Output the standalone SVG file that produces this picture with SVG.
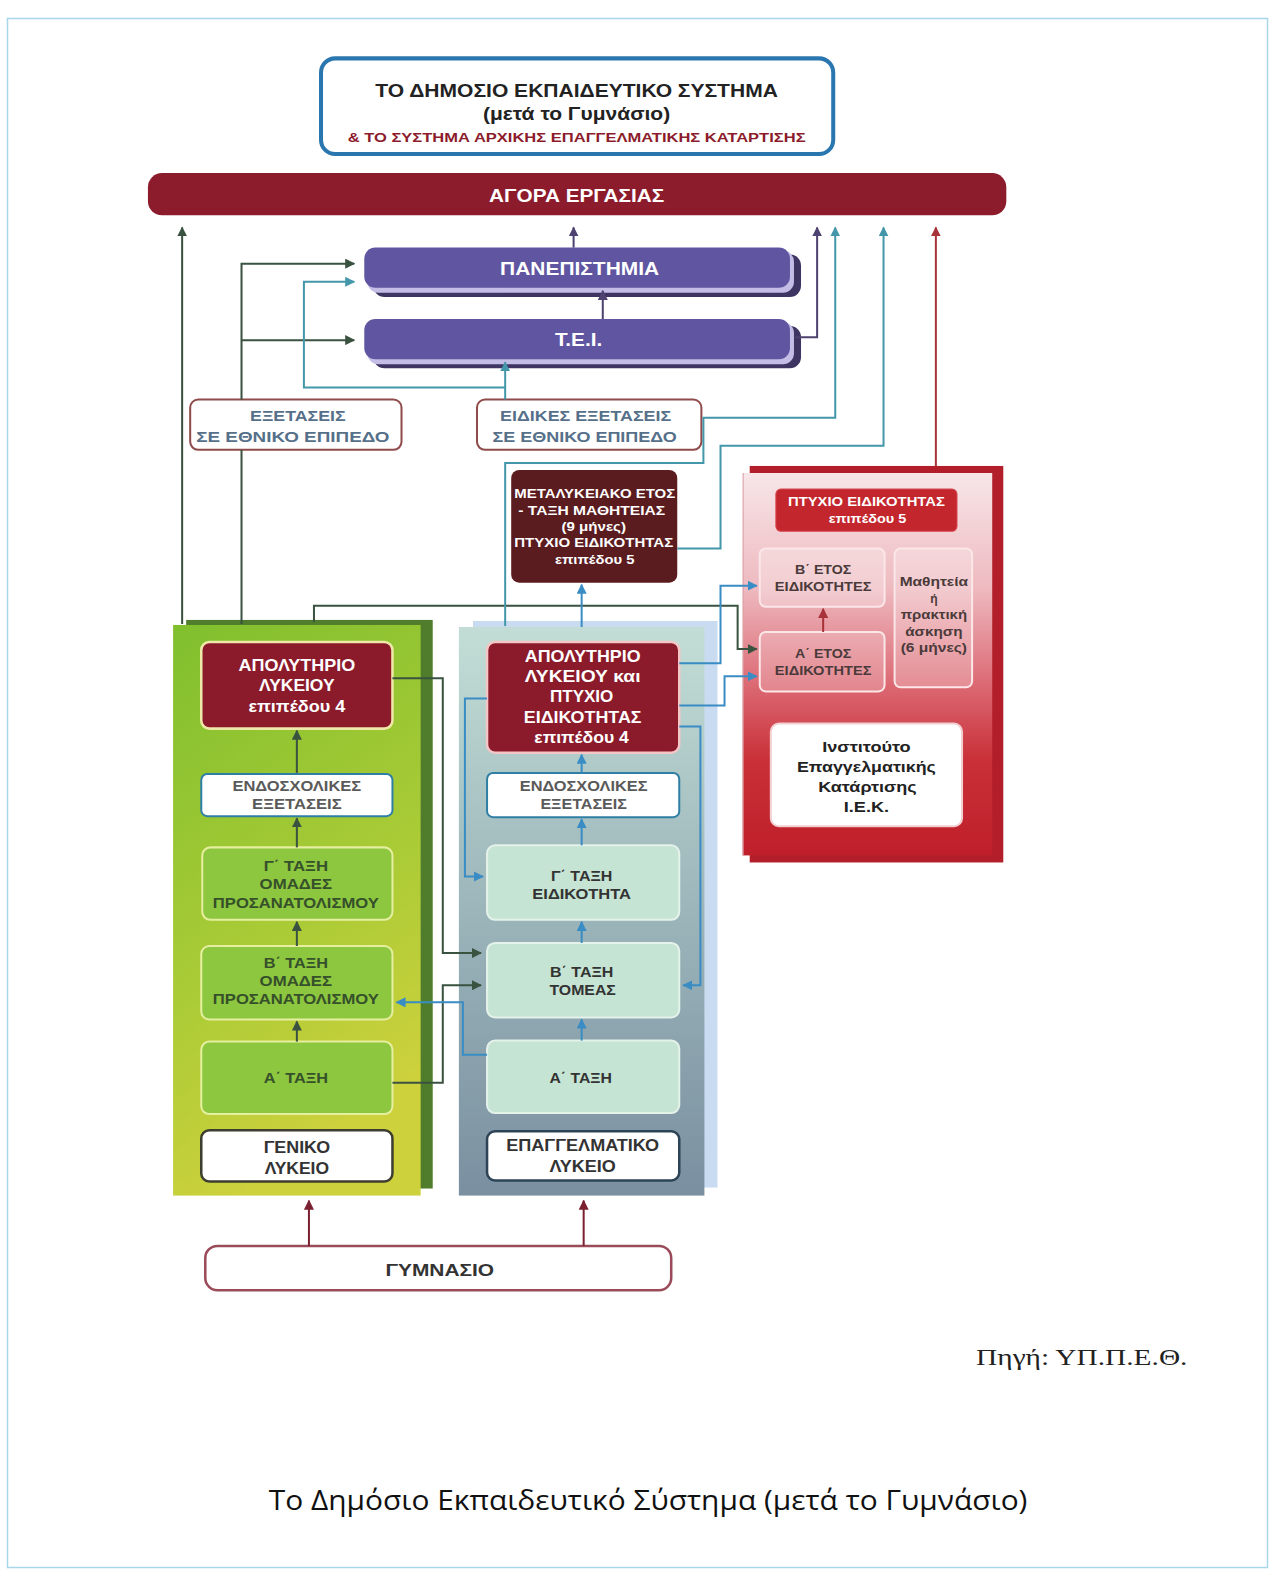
<svg xmlns="http://www.w3.org/2000/svg" width="1275" height="1578" viewBox="0 0 1275 1578">
<defs>
<style>
text{font-family:"Liberation Sans",Arial,sans-serif;font-weight:bold;text-anchor:middle}
.w{fill:#ffffff}
.g{fill:#5a5a5a}
.dg{fill:#35502a}
.dk{fill:#333333}
.ex{fill:#56708a;font-size:15px}
.conn path{fill:none;stroke-width:2}
.cg{stroke:#3a5240}
.ct{stroke:#4497aa}
.cb{stroke:#3a8cc4}
.cp{stroke:#4d4270}
.cr{stroke:#a8323a}
.cm{stroke:#7a2030}
</style>
<linearGradient id="gGreen" x1="0" y1="0" x2="0.3" y2="1">
<stop offset="0" stop-color="#80bf2e"/>
<stop offset="0.6" stop-color="#a9cb36"/>
<stop offset="1" stop-color="#cdd13c"/>
</linearGradient>
<linearGradient id="gSlate" x1="0" y1="0" x2="0" y2="1">
<stop offset="0" stop-color="#c3ddd6"/>
<stop offset="0.45" stop-color="#9fb9bd"/>
<stop offset="1" stop-color="#7a8fa0"/>
</linearGradient>
<linearGradient id="gRed" x1="0" y1="0" x2="0" y2="1">
<stop offset="0" stop-color="#f7e6e8"/>
<stop offset="0.3" stop-color="#eebac0"/>
<stop offset="0.55" stop-color="#dc6a74"/>
<stop offset="0.75" stop-color="#c93038"/>
<stop offset="1" stop-color="#bf1f2a"/>
</linearGradient>
<marker id="aG" viewBox="0 0 10 10" refX="9" refY="5" markerWidth="10" markerHeight="10" markerUnits="userSpaceOnUse" orient="auto"><path d="M0,0 L10,5 L0,10 z" fill="#3a5240"/></marker>
<marker id="aT" viewBox="0 0 10 10" refX="9" refY="5" markerWidth="10" markerHeight="10" markerUnits="userSpaceOnUse" orient="auto"><path d="M0,0 L10,5 L0,10 z" fill="#4497aa"/></marker>
<marker id="aB" viewBox="0 0 10 10" refX="9" refY="5" markerWidth="10" markerHeight="10" markerUnits="userSpaceOnUse" orient="auto"><path d="M0,0 L10,5 L0,10 z" fill="#3a8cc4"/></marker>
<marker id="aP" viewBox="0 0 10 10" refX="9" refY="5" markerWidth="10" markerHeight="10" markerUnits="userSpaceOnUse" orient="auto"><path d="M0,0 L10,5 L0,10 z" fill="#4d4270"/></marker>
<marker id="aR" viewBox="0 0 10 10" refX="9" refY="5" markerWidth="10" markerHeight="10" markerUnits="userSpaceOnUse" orient="auto"><path d="M0,0 L10,5 L0,10 z" fill="#a8323a"/></marker>
<marker id="aM" viewBox="0 0 10 10" refX="9" refY="5" markerWidth="10" markerHeight="10" markerUnits="userSpaceOnUse" orient="auto"><path d="M0,0 L10,5 L0,10 z" fill="#7a2030"/></marker>
</defs>
<rect x="0" y="0" width="1275" height="1578" fill="#ffffff"/>
<rect x="7.5" y="18.5" width="1260" height="1549" fill="none" stroke="#a9d7ea" stroke-width="1.5"/>
<g transform="scale(1.00631,1.00638)">

<g id="title">
<rect x="319" y="58" width="509" height="95" rx="14" fill="#ffffff" stroke="#2a77b0" stroke-width="4"/>
<text x="573" y="96" font-size="18" fill="#222" textLength="400" lengthAdjust="spacingAndGlyphs">ΤΟ ΔΗΜΟΣΙΟ ΕΚΠΑΙΔΕΥΤΙΚΟ ΣΥΣΤΗΜΑ</text>
<text x="573" y="119" font-size="18" fill="#222" textLength="186" lengthAdjust="spacingAndGlyphs">(μετά το Γυμνάσιο)</text>
<text x="573" y="141" font-size="13" fill="#8c1c2c" textLength="455" lengthAdjust="spacingAndGlyphs">&amp; ΤΟ ΣΥΣΤΗΜΑ ΑΡΧΙΚΗΣ ΕΠΑΓΓΕΛΜΑΤΙΚΗΣ ΚΑΤΑΡΤΙΣΗΣ</text>
</g>

<g id="agora">
<rect x="147" y="172" width="853" height="42" rx="14" fill="#8c1b2b"/>
<text x="573" y="201" font-size="19" class="w" textLength="174" lengthAdjust="spacingAndGlyphs">ΑΓΟΡΑ ΕΡΓΑΣΙΑΣ</text>
</g>

<g id="panepistimia">
<rect x="371" y="253" width="425" height="42" rx="11" fill="#3f3563"/>
<rect x="365" y="249" width="424" height="42" rx="11" fill="#c4bde6"/>
<rect x="362" y="246" width="423" height="40" rx="11" fill="#5f55a1"/>
<text x="576" y="273" font-size="19" class="w" textLength="158" lengthAdjust="spacingAndGlyphs">ΠΑΝΕΠΙΣΤΗΜΙΑ</text>
</g>

<g id="tei">
<rect x="371" y="324" width="425" height="42" rx="11" fill="#3f3563"/>
<rect x="365" y="320" width="424" height="42" rx="11" fill="#c4bde6"/>
<rect x="362" y="317" width="423" height="40" rx="11" fill="#5f55a1"/>
<text x="575" y="344" font-size="19" class="w" textLength="47" lengthAdjust="spacingAndGlyphs">T.E.I.</text>
</g>

<g id="exetaseis">
<rect x="189" y="397" width="210" height="50" rx="8" fill="#ffffff" stroke="#8f4a4a" stroke-width="2"/>
<text x="296" y="418" class="ex" textLength="95" lengthAdjust="spacingAndGlyphs">ΕΞΕΤΑΣΕΙΣ</text>
<text x="291" y="439" class="ex" textLength="192" lengthAdjust="spacingAndGlyphs">ΣΕ ΕΘΝΙΚΟ ΕΠΙΠΕΔΟ</text>
</g>

<g id="eidikes">
<rect x="474" y="397" width="223" height="50" rx="8" fill="#ffffff" stroke="#8f4a4a" stroke-width="2"/>
<text x="582" y="418" class="ex" textLength="170" lengthAdjust="spacingAndGlyphs">ΕΙΔΙΚΕΣ ΕΞΕΤΑΣΕΙΣ</text>
<text x="581" y="439" class="ex" textLength="183" lengthAdjust="spacingAndGlyphs">ΣΕ ΕΘΝΙΚΟ ΕΠΙΠΕΔΟ</text>
</g>

<g id="metalykeiako">
<rect x="508" y="467" width="165" height="112" rx="8" fill="#5b1c1f"/>
<text x="591" y="495" font-size="12" class="w" textLength="160" lengthAdjust="spacingAndGlyphs">ΜΕΤΑΛΥΚΕΙΑΚΟ ΕΤΟΣ</text>
<text x="588" y="512" font-size="12" class="w" textLength="146" lengthAdjust="spacingAndGlyphs">- ΤΑΞΗ ΜΑΘΗΤΕΙΑΣ</text>
<text x="590" y="528" font-size="12" class="w" textLength="64" lengthAdjust="spacingAndGlyphs">(9 μήνες)</text>
<text x="590" y="544" font-size="12" class="w" textLength="158" lengthAdjust="spacingAndGlyphs">ΠΤΥΧΙΟ ΕΙΔΙΚΟΤΗΤΑΣ</text>
<text x="591" y="560" font-size="12" class="w" textLength="79" lengthAdjust="spacingAndGlyphs">επιπέδου 5</text>
</g>

<g id="iek">
<rect x="745" y="463" width="252" height="394" fill="#b21f2a"/>
<rect x="738" y="470" width="248" height="380" fill="url(#gRed)"/>
<line x1="738.5" y1="470" x2="738.5" y2="850" stroke="#d9a0a6" stroke-width="1"/>
</g>
<g id="iek-ptyxio">
<rect x="771" y="486" width="180" height="42" rx="5" fill="#c4262e" stroke="#d84850" stroke-width="1"/>
<text x="861" y="503" font-size="12" class="w" textLength="156" lengthAdjust="spacingAndGlyphs">ΠΤΥΧΙΟ ΕΙΔΙΚΟΤΗΤΑΣ</text>
<text x="862" y="520" font-size="12" class="w" textLength="77" lengthAdjust="spacingAndGlyphs">επιπέδου 5</text>
</g>
<g id="iek-b">
<rect x="755" y="545" width="124" height="58" rx="6" fill="#ffffff" fill-opacity="0.28" stroke="#fbe6e8" stroke-width="2"/>
<text x="818" y="570" font-size="12" fill="#4a3a3a" textLength="56" lengthAdjust="spacingAndGlyphs">Β΄ ΕΤΟΣ</text>
<text x="818" y="587" font-size="12" fill="#4a3a3a" textLength="96" lengthAdjust="spacingAndGlyphs">ΕΙΔΙΚΟΤΗΤΕΣ</text>
</g>
<g id="iek-a">
<rect x="755" y="628" width="124" height="59" rx="6" fill="#ffffff" fill-opacity="0.22" stroke="#fbe6e8" stroke-width="2"/>
<text x="818" y="654" font-size="12" fill="#4a3a3a" textLength="56" lengthAdjust="spacingAndGlyphs">Α΄ ΕΤΟΣ</text>
<text x="818" y="671" font-size="12" fill="#4a3a3a" textLength="96" lengthAdjust="spacingAndGlyphs">ΕΙΔΙΚΟΤΗΤΕΣ</text>
</g>
<g id="iek-mathiteia">
<rect x="889" y="545" width="77" height="138" rx="6" fill="#ffffff" fill-opacity="0.25" stroke="#fbe6e8" stroke-width="2"/>
<text x="928" y="582" font-size="12" fill="#4a3a3a" textLength="68" lengthAdjust="spacingAndGlyphs">Μαθητεία</text>
<text x="928" y="599" font-size="12" fill="#4a3a3a">ή</text>
<text x="928" y="615" font-size="12" fill="#4a3a3a" textLength="66" lengthAdjust="spacingAndGlyphs">πρακτική</text>
<text x="928" y="632" font-size="12" fill="#4a3a3a" textLength="57" lengthAdjust="spacingAndGlyphs">άσκηση</text>
<text x="928" y="648" font-size="12" fill="#4a3a3a" textLength="66" lengthAdjust="spacingAndGlyphs">(6 μήνες)</text>
</g>
<g id="iek-institouto">
<rect x="766" y="719" width="190" height="102" rx="8" fill="#ffffff" stroke="#f2d0d2" stroke-width="2"/>
<text x="861" y="747" font-size="15" fill="#222" textLength="88" lengthAdjust="spacingAndGlyphs">Ινστιτούτο</text>
<text x="861" y="767" font-size="15" fill="#222" textLength="138" lengthAdjust="spacingAndGlyphs">Επαγγελματικής</text>
<text x="862" y="787" font-size="15" fill="#222" textLength="98" lengthAdjust="spacingAndGlyphs">Κατάρτισης</text>
<text x="861" y="807" font-size="15" fill="#222" textLength="45" lengthAdjust="spacingAndGlyphs">Ι.Ε.Κ.</text>
</g>

<g id="geniko-panel">
<rect x="185" y="616" width="245" height="565" fill="#4f7d2b"/>
<rect x="172" y="621" width="246" height="567" fill="url(#gGreen)"/>
</g>
<g id="geniko-apolytirio">
<rect x="200" y="638" width="190" height="86" rx="8" fill="#8b1a2b" stroke="#efe8a8" stroke-width="2.5"/>
<text x="295" y="667" font-size="16" class="w" textLength="116" lengthAdjust="spacingAndGlyphs">ΑΠΟΛΥΤΗΡΙΟ</text>
<text x="295" y="687" font-size="16" class="w" textLength="75" lengthAdjust="spacingAndGlyphs">ΛΥΚΕΙΟΥ</text>
<text x="295" y="707" font-size="16" class="w" textLength="96" lengthAdjust="spacingAndGlyphs">επιπέδου 4</text>
</g>
<g id="geniko-endosx">
<rect x="200" y="769" width="190" height="42" rx="6" fill="#ffffff" stroke="#2f7fa5" stroke-width="2"/>
<text x="295" y="786" font-size="14" class="g" textLength="128" lengthAdjust="spacingAndGlyphs">ΕΝΔΟΣΧΟΛΙΚΕΣ</text>
<text x="295" y="804" font-size="14" class="g" textLength="89" lengthAdjust="spacingAndGlyphs">ΕΞΕΤΑΣΕΙΣ</text>
</g>
<g id="geniko-g">
<rect x="201" y="842" width="189" height="72" rx="8" fill="#8dc63f" stroke="#e6eea0" stroke-width="2"/>
<text x="294" y="865" font-size="14" class="dg" textLength="64" lengthAdjust="spacingAndGlyphs">Γ΄ ΤΑΞΗ</text>
<text x="294" y="883" font-size="14" class="dg" textLength="72" lengthAdjust="spacingAndGlyphs">ΟΜΑΔΕΣ</text>
<text x="294" y="902" font-size="14" class="dg" textLength="165" lengthAdjust="spacingAndGlyphs">ΠΡΟΣΑΝΑΤΟΛΙΣΜΟΥ</text>
</g>
<g id="geniko-b">
<rect x="200" y="940" width="190" height="73" rx="8" fill="#8dc63f" stroke="#e6eea0" stroke-width="2"/>
<text x="294" y="962" font-size="14" class="dg" textLength="64" lengthAdjust="spacingAndGlyphs">Β΄ ΤΑΞΗ</text>
<text x="294" y="980" font-size="14" class="dg" textLength="72" lengthAdjust="spacingAndGlyphs">ΟΜΑΔΕΣ</text>
<text x="294" y="998" font-size="14" class="dg" textLength="165" lengthAdjust="spacingAndGlyphs">ΠΡΟΣΑΝΑΤΟΛΙΣΜΟΥ</text>
</g>
<g id="geniko-a">
<rect x="200" y="1035" width="190" height="72" rx="8" fill="#8dc63f" stroke="#e6eea0" stroke-width="2"/>
<text x="294" y="1076" font-size="14" class="dg" textLength="64" lengthAdjust="spacingAndGlyphs">Α΄ ΤΑΞΗ</text>
</g>
<g id="geniko-lykeio">
<rect x="200" y="1123" width="190" height="51" rx="8" fill="#ffffff" stroke="#3d3d30" stroke-width="2.5"/>
<text x="295" y="1146" font-size="16" class="dk" textLength="66" lengthAdjust="spacingAndGlyphs">ΓΕΝΙΚΟ</text>
<text x="295" y="1167" font-size="16" class="dk" textLength="64" lengthAdjust="spacingAndGlyphs">ΛΥΚΕΙΟ</text>
</g>

<g id="epal-panel">
<rect x="470" y="617" width="243" height="563" fill="#c9dbf0"/>
<rect x="456" y="623" width="244" height="565" fill="url(#gSlate)"/>
</g>
<g id="epal-apolytirio">
<rect x="484" y="638" width="191" height="110" rx="8" fill="#8b1a2b" stroke="#f4c6c6" stroke-width="2.5"/>
<text x="579" y="658" font-size="16" class="w" textLength="115" lengthAdjust="spacingAndGlyphs">ΑΠΟΛΥΤΗΡΙΟ</text>
<text x="579" y="678" font-size="16" class="w" textLength="115" lengthAdjust="spacingAndGlyphs">ΛΥΚΕΙΟΥ  και</text>
<text x="578" y="698" font-size="16" class="w" textLength="63" lengthAdjust="spacingAndGlyphs">ΠΤΥΧΙΟ</text>
<text x="579" y="718" font-size="16" class="w" textLength="117" lengthAdjust="spacingAndGlyphs">ΕΙΔΙΚΟΤΗΤΑΣ</text>
<text x="578" y="738" font-size="16" class="w" textLength="94" lengthAdjust="spacingAndGlyphs">επιπέδου 4</text>
</g>
<g id="epal-endosx">
<rect x="484" y="768" width="191" height="44" rx="6" fill="#ffffff" stroke="#2f7fa5" stroke-width="2"/>
<text x="580" y="786" font-size="14" class="g" textLength="127" lengthAdjust="spacingAndGlyphs">ΕΝΔΟΣΧΟΛΙΚΕΣ</text>
<text x="580" y="804" font-size="14" class="g" textLength="86" lengthAdjust="spacingAndGlyphs">ΕΞΕΤΑΣΕΙΣ</text>
</g>
<g id="epal-g">
<rect x="484" y="840" width="191" height="74" rx="8" fill="#c6e4d4" stroke="#e4f2ea" stroke-width="2"/>
<text x="578" y="875" font-size="14" class="dk" textLength="61" lengthAdjust="spacingAndGlyphs">Γ΄ ΤΑΞΗ</text>
<text x="578" y="893" font-size="14" class="dk" textLength="98" lengthAdjust="spacingAndGlyphs">ΕΙΔΙΚΟΤΗΤΑ</text>
</g>
<g id="epal-b">
<rect x="484" y="937" width="191" height="74" rx="8" fill="#c6e4d4" stroke="#e4f2ea" stroke-width="2"/>
<text x="578" y="971" font-size="14" class="dk" textLength="63" lengthAdjust="spacingAndGlyphs">Β΄ ΤΑΞΗ</text>
<text x="579" y="989" font-size="14" class="dk" textLength="66" lengthAdjust="spacingAndGlyphs">ΤΟΜΕΑΣ</text>
</g>
<g id="epal-a">
<rect x="484" y="1034" width="191" height="72" rx="8" fill="#c6e4d4" stroke="#e4f2ea" stroke-width="2"/>
<text x="577" y="1076" font-size="14" class="dk" textLength="62" lengthAdjust="spacingAndGlyphs">Α΄ ΤΑΞΗ</text>
</g>
<g id="epal-lykeio">
<rect x="484" y="1124" width="191" height="49" rx="8" fill="#ffffff" stroke="#2c4456" stroke-width="2.5"/>
<text x="579" y="1144" font-size="16" class="dk" textLength="152" lengthAdjust="spacingAndGlyphs">ΕΠΑΓΓΕΛΜΑΤΙΚΟ</text>
<text x="579" y="1165" font-size="16" class="dk" textLength="66" lengthAdjust="spacingAndGlyphs">ΛΥΚΕΙΟ</text>
</g>

<g id="gymnasio">
<rect x="204" y="1238" width="463" height="44" rx="12" fill="#ffffff" stroke="#9a4a58" stroke-width="2.5"/>
<text x="437" y="1268" font-size="17" class="dk" textLength="108" lengthAdjust="spacingAndGlyphs">ΓΥΜΝΑΣΙΟ</text>
</g>

<g class="conn" id="connectors">
<path class="cg" d="M181,620 V226" marker-end="url(#aG)"/>
<path class="cg" d="M240,620 V447"/>
<path class="cg" d="M240,397 V262 H352" marker-end="url(#aG)"/>
<path class="cg" d="M240,338 H352" marker-end="url(#aG)"/>
<path class="cg" d="M312,618 V602 H733 V645 H752" marker-end="url(#aG)"/>
<path class="cg" d="M390,674 H440 V947 H478" marker-end="url(#aG)"/>
<path class="cg" d="M390,1076 H440 V979 H478" marker-end="url(#aG)"/>
<path class="cg" d="M295,768 V726" marker-end="url(#aG)"/>
<path class="cg" d="M295,842 V813" marker-end="url(#aG)"/>
<path class="cg" d="M295,940 V916" marker-end="url(#aG)"/>
<path class="cg" d="M295,1035 V1015" marker-end="url(#aG)"/>
<path class="ct" d="M502,397 V360" marker-end="url(#aT)"/>
<path class="ct" d="M502,385 H302 V280 H352" marker-end="url(#aT)"/>
<path class="ct" d="M502,622 V460 H699 V415 H830 V226" marker-end="url(#aT)"/>
<path class="ct" d="M673,545 H716 V443 H878 V226" marker-end="url(#aT)"/>
<path class="cp" d="M570,246 V226" marker-end="url(#aP)"/>
<path class="cp" d="M599,317 V289" marker-end="url(#aP)"/>
<path class="cp" d="M790,335 H812 V226" marker-end="url(#aP)"/>
<path class="cr" d="M930,463 V226" marker-end="url(#aR)"/>
<path class="cr" d="M818,628 V605" marker-end="url(#aR)"/>
<path class="cb" d="M578,623 V581" marker-end="url(#aB)"/>
<path class="cb" d="M675,659 H716 V582 H752" marker-end="url(#aB)"/>
<path class="cb" d="M675,701 H720 V672 H752" marker-end="url(#aB)"/>
<path class="cb" d="M484,694 H462 V871 H480" marker-end="url(#aB)"/>
<path class="cb" d="M675,722 H696 V979 H679" marker-end="url(#aB)"/>
<path class="cb" d="M484,1048 H460 V996 H394" marker-end="url(#aB)"/>
<path class="cb" d="M578,768 V750" marker-end="url(#aB)"/>
<path class="cb" d="M578,840 V814" marker-end="url(#aB)"/>
<path class="cb" d="M578,937 V916" marker-end="url(#aB)"/>
<path class="cb" d="M578,1034 V1013" marker-end="url(#aB)"/>
<path class="cm" d="M307,1238 V1193" marker-end="url(#aM)"/>
<path class="cm" d="M580,1238 V1193" marker-end="url(#aM)"/>
</g>

<text x="1075" y="1356" font-size="22" style="font-family:'Liberation Serif','Times New Roman',serif;font-weight:normal" fill="#222" textLength="210" lengthAdjust="spacingAndGlyphs">Πηγή: ΥΠ.Π.Ε.Θ.</text>
<text x="644" y="1500" font-size="28" style="font-family:'Open Sans','Noto Sans',sans-serif;font-weight:normal" fill="#111" textLength="754" lengthAdjust="spacingAndGlyphs">Το Δημόσιο Εκπαιδευτικό Σύστημα (μετά το Γυμνάσιο)</text>
</g>
</svg>
